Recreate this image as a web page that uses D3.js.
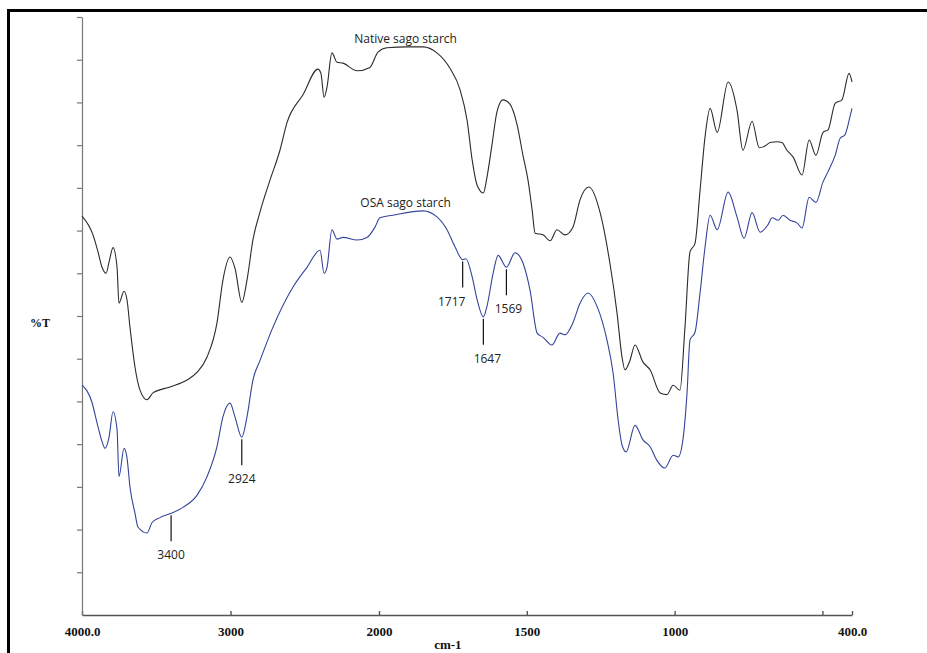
<!DOCTYPE html>
<html>
<head>
<meta charset="utf-8">
<script src="https://cdn.jsdelivr.net/npm/d3@7"></script>
<style>
  body { margin: 0; background: #fff; }
</style>
</head>
<body>
<div id="d3-container"></div>
<script>
/* CONSTANTS AND GLOBALS */
const width = 927,
  height = 653,
  margin = { top: 17, bottom: 38, left: 82, right: 75 };

/* DATA */
// wavenumber (cm-1) and %T
const nativeWn = [4000, 3926, 3892, 3865, 3838, 3818, 3791, 3764, 3751, 3717, 3697, 3677, 3643, 3609, 3562, 3522, 3407, 3293, 3226, 3158, 3091, 3051, 3003, 2970, 2924, 2889, 2849, 2801, 2734, 2667, 2620, 2512, 2411, 2391, 2370, 2350, 2317, 2283, 2242, 2148, 2061, 2007, 1973, 1905, 1851, 1804, 1760, 1726, 1702, 1685, 1668, 1647, 1635, 1618, 1601, 1581, 1557, 1533, 1513, 1496, 1482, 1472, 1445, 1421, 1398, 1371, 1344, 1320, 1290, 1252, 1219, 1195, 1178, 1168, 1151, 1134, 1107, 1083, 1049, 1026, 1005, 982, 965, 948, 931, 914, 897, 880, 856, 819, 789, 769, 738, 714, 694, 677, 654, 637, 620, 599, 569, 545, 522, 498, 481, 457, 434, 410, 400];
const nativeT = [46.7, 44.5, 42.5, 40.7, 40.0, 41.3, 43.0, 40.7, 36.5, 37.9, 36.9, 33.7, 29.0, 26.3, 25.2, 26.0, 26.7, 27.5, 28.4, 30.2, 34.2, 39.2, 41.9, 40.6, 36.6, 39.2, 43.9, 47.2, 50.9, 54.4, 57.6, 60.9, 63.9, 63.4, 60.6, 61.8, 65.8, 64.7, 64.6, 63.7, 64.1, 65.9, 66.4, 66.5, 66.5, 65.8, 64.0, 61.5, 57.9, 53.3, 50.3, 49.4, 51.2, 55.0, 58.9, 60.3, 59.8, 57.4, 53.8, 50.9, 47.4, 44.7, 44.5, 43.8, 45.1, 44.5, 45.4, 48.6, 50.1, 47.1, 41.2, 35.4, 30.2, 28.7, 29.8, 31.6, 29.6, 28.7, 26.0, 25.8, 26.9, 26.3, 33.7, 42.5, 43.5, 49.7, 56.0, 59.3, 56.5, 62.4, 59.1, 54.4, 57.8, 54.7, 54.9, 55.3, 55.4, 55.3, 54.4, 53.6, 51.5, 55.6, 53.8, 56.5, 56.8, 59.9, 60.3, 63.4, 62.4];

const osaWn = [4000, 3933, 3899, 3865, 3845, 3818, 3791, 3764, 3751, 3717, 3697, 3677, 3643, 3623, 3562, 3529, 3475, 3400, 3320, 3226, 3158, 3091, 3051, 3003, 2970, 2924, 2889, 2849, 2801, 2714, 2579, 2485, 2397, 2370, 2350, 2317, 2283, 2242, 2148, 2081, 2027, 1997, 1953, 1851, 1804, 1770, 1743, 1717, 1706, 1685, 1668, 1647, 1635, 1614, 1597, 1569, 1540, 1513, 1489, 1465, 1445, 1415, 1388, 1371, 1344, 1320, 1293, 1262, 1229, 1208, 1191, 1178, 1164, 1134, 1107, 1083, 1060, 1033, 1005, 988, 972, 958, 948, 931, 914, 897, 880, 856, 819, 789, 765, 738, 711, 684, 670, 650, 633, 610, 586, 569, 545, 522, 498, 481, 457, 440, 424, 407, 400];
const osaT = [26.9, 24.9, 22.5, 20.3, 19.5, 20.8, 23.8, 21.7, 16.2, 19.5, 18.4, 15.0, 11.9, 10.3, 9.6, 10.8, 11.4, 11.9, 12.6, 14.0, 16.2, 19.7, 23.2, 24.8, 23.2, 20.8, 23.2, 27.5, 29.8, 33.7, 38.4, 40.7, 42.7, 40.0, 40.7, 45.1, 44.0, 44.2, 43.9, 44.2, 45.4, 46.5, 46.8, 47.3, 46.6, 45.1, 43.1, 41.6, 41.7, 39.6, 36.9, 34.9, 36.1, 40.0, 42.1, 40.7, 42.4, 41.2, 38.0, 33.0, 32.5, 31.6, 33.0, 32.8, 34.2, 36.5, 37.7, 36.1, 32.2, 28.3, 22.8, 19.9, 19.1, 22.2, 20.5, 19.7, 18.1, 17.2, 18.7, 18.5, 20.5, 26.0, 32.2, 33.1, 37.7, 43.1, 46.8, 45.1, 49.5, 46.6, 44.1, 47.1, 44.8, 45.7, 46.5, 46.2, 46.8, 46.2, 45.9, 45.3, 48.9, 48.3, 50.7, 51.9, 53.8, 55.8, 56.2, 58.3, 59.3];

// marked OSA bands
const peakWn = [3400, 2924, 1717, 1647, 1569];
const peakLabels = ["3400", "2924", "1717", "1647", "1569"];

const seriesNames = ["Native sago starch", "OSA sago starch"];

// axis ticks (instrument axis changes scale at 2000 cm-1)
const xTicks = [4000, 3000, 2000, 1500, 1000, 500, 400];
const xTickLabels = ["4000.0", "3000", "2000", "1500", "1000", "", "400.0"];
const yTicks = [5, 10, 15, 20, 25, 30, 35, 40, 45, 50, 55, 60, 65, 70];

/* SCALES */
const xScale = d3.scaleLinear()
  .domain([4000, 2000, 400])
  .range([margin.left, margin.left + 297, width - margin.right]);

const yScale = d3.scaleLinear()
  .domain([0, 70])
  .range([height - margin.bottom, margin.top]);

const nativeData = nativeWn.map((w, i) => ({ wn: w, t: nativeT[i] }));
const osaData = osaWn.map((w, i) => ({ wn: w, t: osaT[i] }));

/* SVG */
const svg = d3.select("#d3-container")
  .append("svg")
  .attr("width", width)
  .attr("height", height);

// scan frame (left + top edges)
svg.append("path")
  .attr("d", `M8.5,${height} L8.5,10.5 L${width},10.5`)
  .attr("fill", "none")
  .attr("stroke", "#000")
  .attr("stroke-width", 3);

/* AXES */
const xAxis = d3.axisBottom(xScale)
  .tickValues(xTicks)
  .tickFormat((d, i) => xTickLabels[i])
  .tickSizeInner(-4)
  .tickSizeOuter(0)
  .tickPadding(12);

const yAxis = d3.axisLeft(yScale)
  .tickValues(yTicks)
  .tickFormat("")
  .tickSizeInner(5)
  .tickSizeOuter(0);

const gx = svg.append("g")
  .attr("class", "xAxis")
  .attr("transform", `translate(0, ${height - margin.bottom})`)
  .call(xAxis);

gx.selectAll("path, line")
  .attr("stroke", "#555")
  .attr("stroke-width", 1.4);
gx.selectAll("text")
  .attr("fill", "#111")
  .attr("font-family", "'Liberation Serif', 'Times New Roman', serif")
  .attr("font-weight", "bold")
  .attr("font-size", 13);

const gy = svg.append("g")
  .attr("class", "yAxis")
  .attr("transform", `translate(${margin.left}, 0)`)
  .call(yAxis);

gy.selectAll("path, line")
  .attr("stroke", "#777")
  .attr("stroke-width", 1.2);

// axis titles
svg.append("text")
  .attr("x", (xScale(1500) + xScale(2000)) / 2 - 5)
  .attr("y", height - 4)
  .attr("text-anchor", "middle")
  .attr("font-family", "'Liberation Serif', 'Times New Roman', serif")
  .attr("font-weight", "bold")
  .attr("font-size", 13)
  .attr("fill", "#111")
  .text("cm-1");

svg.append("text")
  .attr("x", 40)
  .attr("y", 327)
  .attr("text-anchor", "middle")
  .attr("font-family", "'Liberation Serif', 'Times New Roman', serif")
  .attr("font-weight", "bold")
  .attr("font-size", 12)
  .attr("fill", "#111")
  .text("%T");

/* LINES */
const line = d3.line()
  .x(d => xScale(d.wn))
  .y(d => yScale(d.t))
  .curve(d3.curveMonotoneX);

svg.append("path")
  .datum(nativeData)
  .attr("fill", "none")
  .attr("stroke", "#2b2b2b")
  .attr("stroke-width", 1.1)
  .attr("d", line);

svg.append("path")
  .datum(osaData)
  .attr("fill", "none")
  .attr("stroke", "#34449a")
  .attr("stroke-width", 1.1)
  .attr("d", line);

/* SERIES LABELS */
// each name sits just above the broad 2000-1800 cm-1 plateau of its curve
const labelFont = "'Open Sans', 'DejaVu Sans', sans-serif";
[nativeData, osaData].forEach((data, i) => {
  const top = d3.max(data.filter(d => d.wn <= 2100 && d.wn >= 1750), d => d.t);
  svg.append("text")
    .attr("x", xScale(1910))
    .attr("y", yScale(top) - 4)
    .attr("text-anchor", "middle")
    .attr("font-family", labelFont)
    .attr("font-size", 12)
    .attr("fill", "#222")
    .text(seriesNames[i]);
});

/* PEAK MARKERS */
const labelShift = { "1717": -11, "1647": 4, "1569": 2 };
peakWn.forEach((w, i) => {
  const p = osaData.find(d => d.wn === w);
  const px = xScale(w);
  const py = yScale(p.t) + 2;
  svg.append("line")
    .attr("x1", px).attr("x2", px)
    .attr("y1", py).attr("y2", py + 26)
    .attr("stroke", "#111")
    .attr("stroke-width", 1.2);
  svg.append("text")
    .attr("x", px + (labelShift[peakLabels[i]] || 0))
    .attr("y", py + 44)
    .attr("text-anchor", "middle")
    .attr("font-family", labelFont)
    .attr("font-size", 12)
    .attr("fill", "#222")
    .text(peakLabels[i]);
});
</script>
</body>
</html>
